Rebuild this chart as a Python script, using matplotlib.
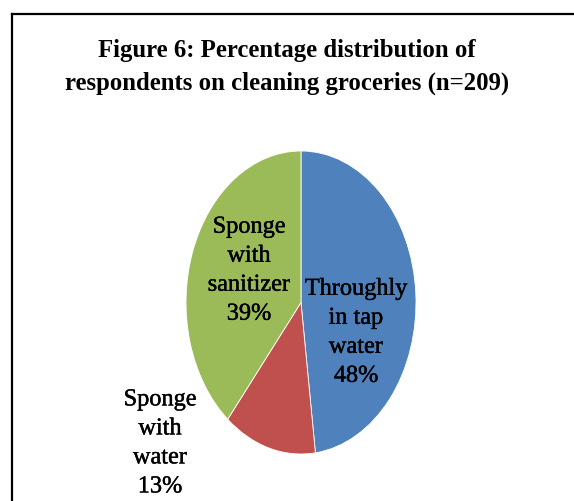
import matplotlib.pyplot as plt
import matplotlib.patheffects as pe
from matplotlib.lines import Line2D

# data
labels = ['Throughly\nin tap\nwater', 'Sponge\nwith\nwater', 'Sponge\nwith\nsanitizer']
values = [48, 13, 39]
colors = ['#4F81BD', '#C0504D', '#9BBB59']
title = 'Figure 6: Percentage distribution of\nrespondents on cleaning groceries (n=209)'

W, H = 574, 502
fig = plt.figure(figsize=(W / 100, H / 100), dpi=100)

# pie drawn as an ellipse like the original (stretched vertically)
ax = fig.add_axes([186 / W, (H - 455) / H, 230 / W, 303 / H])
ax.pie(values, colors=colors, startangle=90, counterclock=False,
       wedgeprops=dict(edgecolor='white', linewidth=0.6))
ax.set_aspect('auto')
ax.set_xlim(-1, 1)
ax.set_ylim(-1, 1)

# label positions (data units of the pie axes)
label_pos = [(0.478, -0.20), (-1.226, -0.93), (-0.452, 0.21)]
thick = [pe.withStroke(linewidth=0.3, foreground='black')]
for lab, v, (x, y) in zip(labels, values, label_pos):
    ax.text(x, y, f'{lab}\n{v}%', ha='center', va='center', fontsize=17.5,
            family='Liberation Serif', linespacing=1.5, clip_on=False,
            path_effects=thick)

fig.text(0.5, 1 - 67 / H, title, ha='center', va='center', fontsize=17.8,
         family='Liberation Serif', fontweight='bold', linespacing=1.5)

# frame around the chart area (left and top edges visible)
fig.add_artist(Line2D([11.5 / W, 11.5 / W], [0, 1 - 15 / H], color='black', lw=1.6))
fig.add_artist(Line2D([11.5 / W, 1], [1 - 15 / H, 1 - 15 / H], color='black', lw=1.6))

fig.savefig('out.png', dpi=100)
